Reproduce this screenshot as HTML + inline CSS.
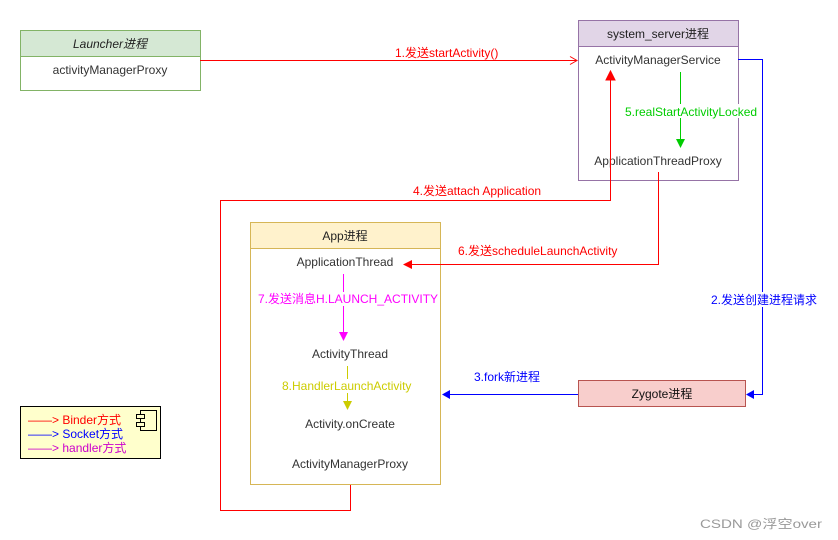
<!DOCTYPE html>
<html><head><meta charset="utf-8"><style>
html,body{margin:0;padding:0;background:#fff;width:838px;height:540px;overflow:hidden}
svg text{font-family:"Liberation Sans","Noto Sans CJK SC",sans-serif;font-size:12px}
</style></head><body>
<svg width="838" height="540" viewBox="0 0 838 540" xmlns="http://www.w3.org/2000/svg">
<rect x="20.5" y="30.5" width="180" height="60" fill="#fff" stroke="#82b366"/>
<rect x="20.5" y="30.5" width="180" height="26" fill="#d5e8d4" stroke="#82b366"/>
<text x="110" y="48" text-anchor="middle" font-style="italic" fill="#222">Launcher进程</text>
<text x="110" y="74" text-anchor="middle" fill="#333">activityManagerProxy</text>
<rect x="578.5" y="20.5" width="160" height="160" fill="#fff" stroke="#9673a6"/>
<rect x="578.5" y="20.5" width="160" height="26" fill="#e1d5e7" stroke="#9673a6"/>
<text x="658" y="38" text-anchor="middle" fill="#222">system_server进程</text>
<text x="658" y="64" text-anchor="middle" fill="#333">ActivityManagerService</text>
<text x="658" y="165" text-anchor="middle" fill="#333">ApplicationThreadProxy</text>
<rect x="250.5" y="222.5" width="190" height="262" fill="#fff" stroke="#d6b656"/>
<rect x="250.5" y="222.5" width="190" height="26" fill="#fff2cc" stroke="#d6b656"/>
<text x="345" y="240" text-anchor="middle" fill="#222">App进程</text>
<text x="345" y="266" text-anchor="middle" fill="#333">ApplicationThread</text>
<text x="350" y="358" text-anchor="middle" fill="#333">ActivityThread</text>
<text x="350" y="428" text-anchor="middle" fill="#333">Activity.onCreate</text>
<text x="350" y="468" text-anchor="middle" fill="#333">ActivityManagerProxy</text>
<rect x="578.5" y="380.5" width="167" height="26" fill="#f8cecc" stroke="#b85450"/>
<text x="662" y="398" text-anchor="middle" fill="#111">Zygote进程</text>
<path d="M200 60.5H576" stroke="#f00" fill="none"/>
<path d="M570 56.5L577 60.5L570 64.5" stroke="#f00" fill="none"/>
<text x="395" y="57" fill="#f00">1.发送startActivity()</text>
<path d="M350.5 485V510.5H220.5V200.5H610.5V78" stroke="#f00" fill="none"/>
<path d="M606 80L610.5 71L615 80Z" fill="#f00" stroke="#f00"/>
<text x="413" y="195" fill="#f00">4.发送attach Application</text>
<path d="M680.5 72V142" stroke="#00cc00" fill="none"/>
<path d="M676 139L680.5 148L685 139Z" fill="#00cc00"/>
<rect x="625" y="104" width="132" height="14" fill="#fff"/>
<text x="625" y="116" fill="#00cc00">5.realStartActivityLocked</text>
<path d="M658.5 172V264.5H410" stroke="#f00" fill="none"/>
<path d="M412 260L403 264.5L412 269Z" fill="#f00"/>
<text x="458" y="255" fill="#f00">6.发送scheduleLaunchActivity</text>
<path d="M738 59.5H762.5V394.5H752" stroke="#00f" fill="none"/>
<path d="M754 390L746 394.5L754 399Z" fill="#00f"/>
<rect x="711" y="292" width="108" height="15" fill="#fff"/>
<text x="711" y="304" fill="#00f">2.发送创建进程请求</text>
<path d="M578 394.5H448" stroke="#00f" fill="none"/>
<path d="M450 390L442 394.5L450 399Z" fill="#00f"/>
<text x="474" y="381" fill="#00f">3.fork新进程</text>
<path d="M343.5 274V334" stroke="#f0f" fill="none"/>
<path d="M339 332L343.5 341L348 332Z" fill="#f0f"/>
<rect x="258" y="292" width="180" height="14" fill="#fff"/>
<text x="258" y="303" fill="#f0f">7.发送消息H.LAUNCH_ACTIVITY</text>
<path d="M347.5 366V404" stroke="#cccc00" fill="none"/>
<path d="M343 401L347.5 410L352 401Z" fill="#cccc00"/>
<rect x="282" y="379" width="130" height="14" fill="#fff"/>
<text x="282" y="390" fill="#cccc00">8.HandlerLaunchActivity</text>
<rect x="20.5" y="406.5" width="140" height="52" fill="#ffffcc" stroke="#000"/>
<text x="28" y="424" fill="#f00">——&gt; Binder方式</text>
<text x="28" y="438" fill="#00f">——&gt; Socket方式</text>
<text x="28" y="452" fill="#c0c">——&gt; handler方式</text>
<rect x="140.5" y="410.5" width="16" height="20" fill="#ffffcc" stroke="#000"/>
<rect x="136.5" y="414.5" width="8" height="4" fill="#ffffcc" stroke="#000"/>
<rect x="136.5" y="422.5" width="8" height="4" fill="#ffffcc" stroke="#000"/>
<text x="700" y="528" fill="#999" font-size="15" textLength="122" lengthAdjust="spacingAndGlyphs">CSDN @浮空over</text>
</svg>
</body></html>
